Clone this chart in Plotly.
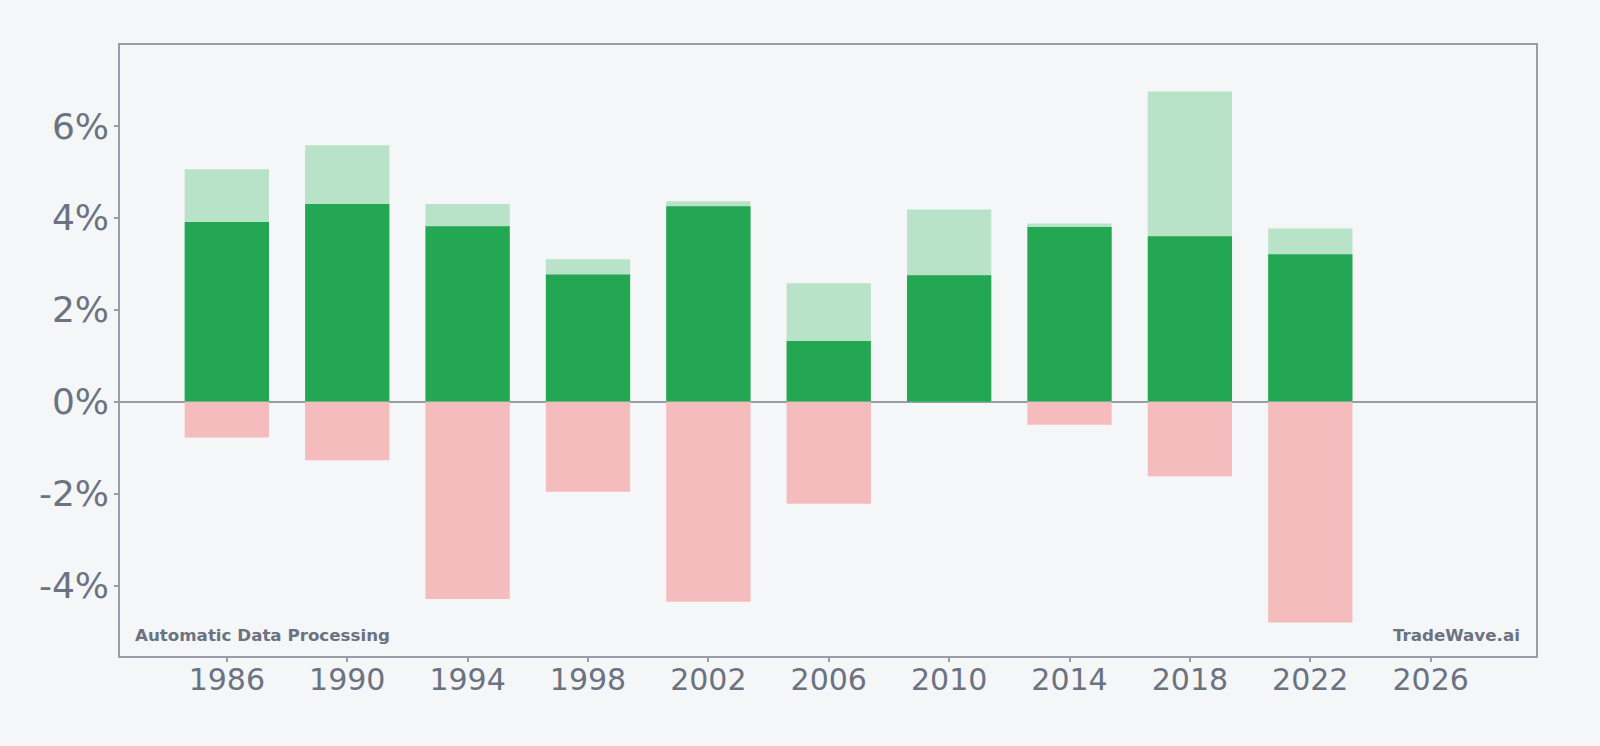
import plotly.graph_objects as go

years = [1986, 1990, 1994, 1998, 2002, 2006, 2010, 2014, 2018, 2022]
base_pct = [3.91, 4.30, 3.82, 2.77, 4.25, 1.32, 2.75, 3.80, 3.60, 3.21]
high_pct = [5.06, 5.58, 4.30, 3.10, 4.36, 2.58, 4.18, 3.88, 6.75, 3.77]
low_pct = [-0.78, -1.27, -4.29, -1.96, -4.35, -2.22, 0.0, -0.50, -1.62, -4.80]

x_ticks = [1986, 1990, 1994, 1998, 2002, 2006, 2010, 2014, 2018, 2022, 2026]
y_ticks = [-4, -2, 0, 2, 4, 6]
y_tick_labels = ["-4%", "-2%", "0%", "2%", "4%", "6%"]

company = "Automatic Data Processing"
brand = "TradeWave.ai"

BG = "#f5f6f8"
AXIS = "#9a9ca6"
TEXT = "#6b7280"
BAR_W = 2.8

fig = go.Figure()
fig.add_trace(go.Bar(x=years, y=high_pct, width=BAR_W, marker=dict(color="#b8e3c9", line=dict(width=0)), hoverinfo="skip"))
fig.add_trace(go.Bar(x=years, y=base_pct, width=BAR_W, marker=dict(color="#23a753", line=dict(width=0)), hoverinfo="skip"))
fig.add_trace(go.Bar(x=years, y=low_pct, width=BAR_W, marker=dict(color="#f4bcbc", line=dict(width=0)), hoverinfo="skip"))

fig.update_layout(
    width=1600, height=746,
    barmode="overlay",
    showlegend=False,
    paper_bgcolor=BG, plot_bgcolor=BG,
    margin=dict(l=120, r=64, t=45, b=90),
    font=dict(family="DejaVu Sans", color=TEXT),
    xaxis=dict(
        range=[1982.45, 2029.5], tickvals=x_ticks, ticks="outside", ticklen=4,
        tickcolor=AXIS, tickwidth=1.5, showgrid=False, zeroline=False,
        showline=True, linecolor=AXIS, linewidth=1.5, mirror=True,
        ticklabelstandoff=-8,
        tickfont=dict(size=30, color=TEXT, family="DejaVu Sans"),
    ),
    yaxis=dict(
        range=[-5.53, 7.76], tickvals=y_ticks, ticktext=y_tick_labels,
        ticks="outside", ticklen=4, tickcolor=AXIS, tickwidth=1.5,
        showgrid=False, zeroline=True, zerolinecolor=AXIS, zerolinewidth=2,
        showline=True, linecolor=AXIS, linewidth=1.5, mirror=True,
        layer="above traces", ticklabelstandoff=-2,
        tickfont=dict(size=36, color=TEXT, family="DejaVu Sans"),
    ),
    annotations=[
        dict(text=f"<b>{company}</b>", xref="paper", yref="paper", x=0.009, y=0.015,
             xanchor="left", yanchor="bottom", showarrow=False,
             font=dict(size=16.7, color=TEXT, family="DejaVu Sans")),
        dict(text=f"<b>{brand}</b>", xref="paper", yref="paper", x=0.99, y=0.015,
             xanchor="right", yanchor="bottom", showarrow=False,
             font=dict(size=16.7, color=TEXT, family="DejaVu Sans")),
    ],
)

fig.write_html("out.html")
